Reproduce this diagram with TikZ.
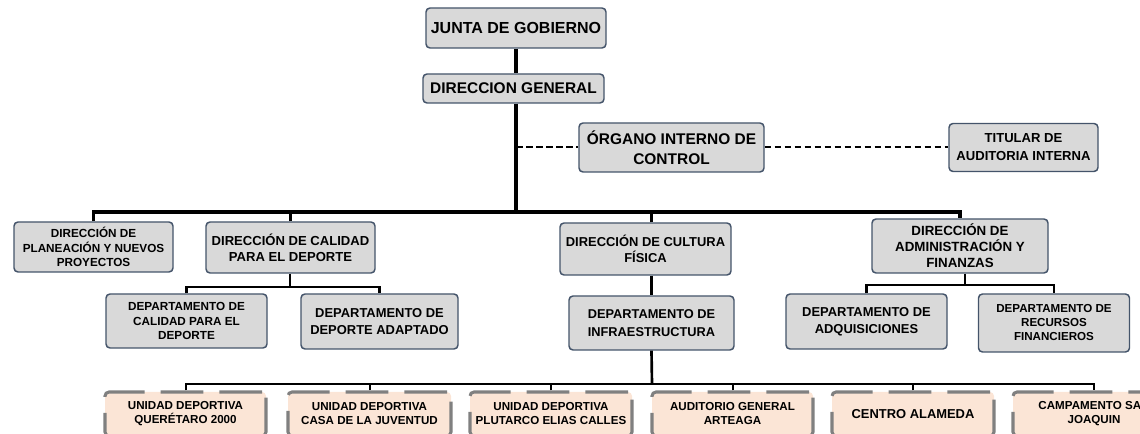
\documentclass[tikz,border=0pt]{standalone}
\usepackage{fontspec}
\setmainfont{Liberation Sans}
\definecolor{boxfill}{RGB}{217,217,217}
\definecolor{boxline}{RGB}{68,84,106}
\definecolor{peach}{RGB}{251,229,214}
\definecolor{dashgray}{RGB}{128,128,128}
\newcommand{\fs}[2]{\bfseries\fontsize{#1}{#2}\selectfont}
\tikzset{
  gbox/.style n args={2}{draw=boxline, fill=boxfill, line width=1.1pt, rounded corners=3pt,
    minimum width=#1*0.75pt, minimum height=#2*0.75pt, inner sep=0pt, align=center},
  ubox/.style={draw=dashgray, fill=peach, line width=2.3pt, rounded corners=3pt,
    dash pattern=on 32pt off 12pt, minimum width=#1*0.75pt, minimum height=33pt,
    inner sep=0pt, align=center, font=\fs{8.7}{10.5}},
  mainline/.style={line width=2.4pt},
  subline/.style={line width=2pt},
  thinline/.style={line width=1.5pt},
  dashline/.style={line width=1.5pt, dash pattern=on 5pt off 2.5pt},
}
\begin{document}
\begin{tikzpicture}[x=0.75pt,y=-0.75pt]
\useasboundingbox (0,0) rectangle (1140,434);
\clip (0,0) rectangle (1140,434);
% boxes
\node[gbox={180}{40}, font=\fs{12}{14}] (junta) at (516,28) {JUNTA DE GOBIERNO};
\node[gbox={181}{29}, font=\fs{11.6}{14}] (dg) at (513.5,88.5) {DIRECCION GENERAL};
\node[gbox={185}{49}, font=\fs{11.6}{15}] (organo) at (671.5,147.5) {ÓRGANO INTERNO DE\\CONTROL};
\node[gbox={149}{48}, font=\fs{9.8}{13.5}] (titular) at (1023.5,147.5) {TITULAR DE\\AUDITORIA INTERNA};
\node[gbox={159}{50}, font=\fs{8.8}{11}] (plan) at (93.5,247) {DIRECCIÓN DE\\PLANEACIÓN Y NUEVOS\\PROYECTOS};
\node[gbox={169}{51}, font=\fs{9.8}{12}] (calidad) at (290.5,247.5) {DIRECCIÓN DE CALIDAD\\PARA EL DEPORTE};
\node[gbox={171}{52}, font=\fs{9.7}{12}] (cultura) at (645.5,249) {DIRECCIÓN DE CULTURA\\FÍSICA};
\node[gbox={176}{54}, font=\fs{10}{12}] (admin) at (960,246) {DIRECCIÓN DE\\ADMINISTRACIÓN Y\\FINANZAS};
\node[gbox={161}{54}, font=\fs{8.8}{11}] (dcal) at (186.5,321) {DEPARTAMENTO DE\\CALIDAD PARA EL\\DEPORTE};
\node[gbox={157}{55}, font=\fs{9.7}{12.75}] (dadap) at (379.5,321.5) {DEPARTAMENTO DE\\DEPORTE ADAPTADO};
\node[gbox={165}{54}, font=\fs{9.6}{13.5}] (infra) at (651.5,323) {DEPARTAMENTO DE\\INFRAESTRUCTURA};
\node[gbox={161}{55}, font=\fs{9.7}{12.75}] (adq) at (866.5,321.5) {DEPARTAMENTO DE\\ADQUISICIONES};
\node[gbox={151}{58}, font=\fs{8.7}{10.5}] (recur) at (1054,323) {DEPARTAMENTO DE\\RECURSOS\\FINANCIEROS};
% bottom units
\node[ubox=161] (u1) at (185.5,414) {UNIDAD DEPORTIVA\\QUERÉTARO 2000};
\node[ubox=163] (u2) at (369.5,414) {UNIDAD DEPORTIVA\\CASA DE LA JUVENTUD};
\node[ubox=162] (u3) at (551,414) {UNIDAD DEPORTIVA\\PLUTARCO ELIAS CALLES};
\node[ubox=161] (u4) at (732.5,414) {AUDITORIO GENERAL\\ARTEAGA};
\node[ubox=162, font=\fs{9.7}{12}] (u5) at (913,414) {CENTRO ALAMEDA};
\node[ubox=162] (u6) at (1094,414) {CAMPAMENTO SAN\\JOAQUIN};
% connectors
\coordinate (bus) at (516,212);
\coordinate (cj) at (290,287);
\coordinate (aj) at (965,285);
\coordinate (bb) at (652,384);
\draw[mainline] (junta.south) -- (junta.south |- dg.north);
\draw[mainline] (dg.south -| bus) -- (bus);
\draw[mainline] (plan.north) |- (bus) -| (admin.north);
\draw[mainline] (calidad.north) -- (calidad.north |- bus);
\draw[mainline] (cultura.north -| infra) -- (infra |- bus);
\draw[dashline] (bus |- organo.west) -- (organo.west);
\draw[dashline] (organo.east) -- (titular.west |- organo.east);
\draw[subline] (calidad.south -| cj) -- (cj);
\draw[subline] (dcal.north) |- (cj) -| (dadap.north);
\draw[subline] (admin.south -| aj) -- (aj);
\draw[subline] (adq.north) |- (aj) -| (recur.north);
\draw[mainline] (cultura.south -| infra) -- (infra.north);
\draw[subline] (infra.south) -- (bb);
\draw[thinline] (u1.north) |- (bb) -| (u6.north);
\draw[thinline] (u2.north) -- (u2.north |- bb);
\draw[thinline] (u3.north) -- (u3.north |- bb);
\draw[thinline] (u4.north) -- (u4.north |- bb);
\draw[thinline] (u5.north) -- (u5.north |- bb);
\end{tikzpicture}
\end{document}
